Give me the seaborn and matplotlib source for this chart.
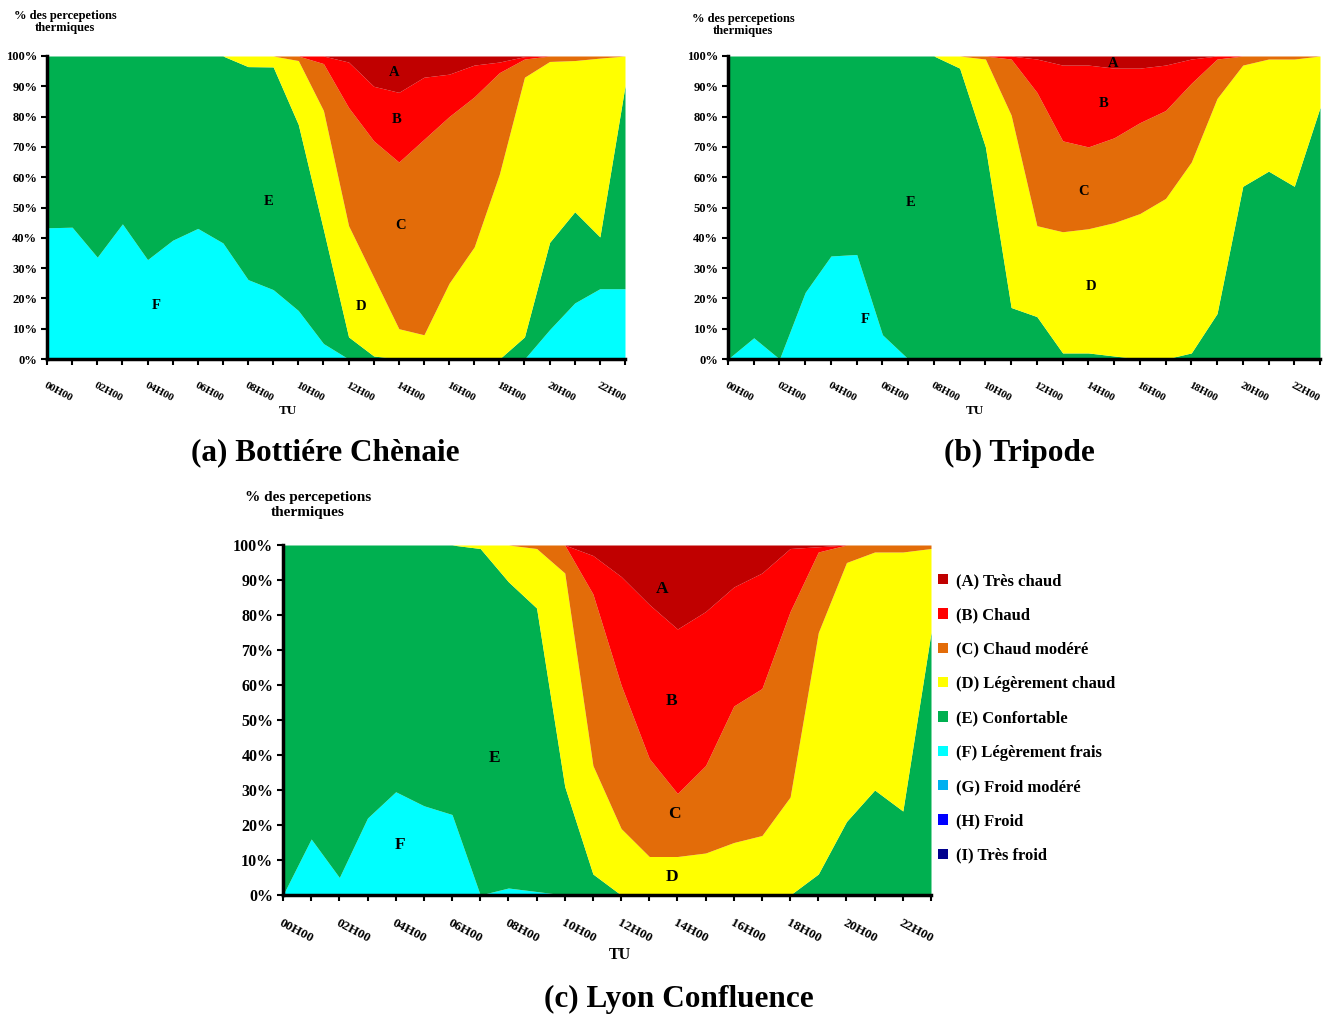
import numpy as np
import matplotlib
matplotlib.use('Agg')
import matplotlib.pyplot as plt
import seaborn as sns
from matplotlib.patches import Patch

sns.set_style('white')
plt.rcParams['font.family'] = ['Liberation Serif', 'DejaVu Serif']
plt.rcParams['font.weight'] = 'bold'
plt.rcParams['text.color'] = 'black'
plt.rcParams['xtick.color'] = 'black'
plt.rcParams['ytick.color'] = 'black'

hours = list(range(24))
hour_labels = ['%02dH00' % h for h in range(0, 24, 2)]

categories = ['(A) Très chaud', '(B) Chaud', '(C) Chaud modéré', '(D) Légèrement chaud',
              '(E) Confortable', '(F) Légèrement frais', '(G) Froid modéré',
              '(H) Froid', '(I) Très froid']
colors = ['#C00000', '#FF0000', '#E36C09', '#FFFF00', '#00B050',
          '#00FFFF', '#00B0F0', '#0000FF', '#00008E']

# (a) Bottiére Chènaie  (% per hour)
bc_A = [0, 0, 0, 0, 0, 0, 0, 0, 0, 0, 0, 0, 2, 10, 12, 7, 6, 3, 2, 0.2, 0, 0, 0, 0]
bc_B = [0, 0, 0, 0, 0, 0, 0, 0, 0, 0, 0, 2.5, 15, 18, 23, 20.5, 14, 10.5, 3.5, 0.8, 0, 0, 0, 0]
bc_C = [0, 0, 0, 0, 0, 0, 0, 0, 0, 0, 1.5, 15.5, 39, 45, 55, 64.5, 55, 49.5, 33.5, 6, 1.8, 1.5, 0.7, 0]
bc_D = [0, 0, 0, 0, 0, 0, 0, 0, 3.5, 3.6, 21.1, 39.3, 36.7, 26, 10, 8, 25, 37, 61, 85.7, 59.7, 49.9, 59, 9.9]
bc_E = [56.7, 56.5, 66.4, 55.4, 67.2, 60.8, 56.9, 61.7, 70.3, 73.5, 61.4, 37.6, 7.3, 1, 0, 0, 0, 0, 0, 7.3, 28.8, 30.1, 17.1, 66.9]
bc_F = [43.3, 43.5, 33.6, 44.6, 32.8, 39.2, 43.1, 38.3, 26.2, 22.9, 16.0, 5.1, 0, 0, 0, 0, 0, 0, 0, 0, 9.7, 18.5, 23.2, 23.2]

# (b) Tripode
tr_A = [0, 0, 0, 0, 0, 0, 0, 0, 0, 0, 0, 0, 1, 3, 3, 4, 4, 3, 1, 0, 0, 0, 0, 0]
tr_B = [0, 0, 0, 0, 0, 0, 0, 0, 0, 0, 0, 1, 11, 25, 27, 23, 18, 15, 8, 1, 0, 0, 0, 0]
tr_C = [0, 0, 0, 0, 0, 0, 0, 0, 0, 0, 1, 18.5, 44, 30, 27, 28, 30, 29, 26, 13, 3, 1, 1, 0]
tr_D = [0, 0, 0, 0, 0, 0, 0, 0, 0, 4, 29, 63.5, 30, 40, 41, 44, 48, 53, 63, 71, 40, 37, 42, 17]
tr_E = [100, 93, 100, 78, 66, 65.5, 92, 100, 100, 96, 70, 17, 14, 2, 2, 1, 0, 0, 2, 15, 57, 62, 57, 83]
tr_F = [0, 7, 0, 22, 34, 34.5, 8, 0, 0, 0, 0, 0, 0, 0, 0, 0, 0, 0, 0, 0, 0, 0, 0, 0]

# (c) Lyon Confluence
lc_A = [0, 0, 0, 0, 0, 0, 0, 0, 0, 0, 0, 3, 9, 17, 24, 19, 12, 8, 1, 0.5, 0, 0, 0, 0]
lc_B = [0, 0, 0, 0, 0, 0, 0, 0, 0, 0, 0, 11, 31, 44, 47, 44, 34, 33, 18, 1.5, 0, 0, 0, 0]
lc_C = [0, 0, 0, 0, 0, 0, 0, 0, 0, 1, 8, 49, 41, 28, 18, 25, 39, 42, 53, 23, 5, 2, 2, 1]
lc_D = [0, 0, 0, 0, 0, 0, 0, 1, 10.5, 17, 61, 31, 19, 11, 11, 12, 15, 17, 28, 69, 74, 68, 74, 24]
lc_E = [100, 84, 95, 78, 70.5, 74.5, 77, 99, 87.5, 81, 31, 6, 0, 0, 0, 0, 0, 0, 0, 6, 21, 30, 24, 75]
lc_F = [0, 16, 5, 22, 29.5, 25.5, 23, 0, 2, 1, 0, 0, 0, 0, 0, 0, 0, 0, 0, 0, 0, 0, 0, 0]

zeros = [0] * 24

fig = plt.figure(figsize=(13.35, 10.16), dpi=100)
W, H = 1335, 1016


def add_ax(l, t, r, b):
    return fig.add_axes([l / W, 1 - b / H, (r - l) / W, (b - t) / H])


def draw(ax, A, B, C, D, E, F, fs_y, fs_x, fs_let, letters):
    # stack bottom -> top : I, H, G, F, E, D, C, B, A
    ax.stackplot(hours, zeros, zeros, zeros, F, E, D, C, B, A,
                 colors=colors[::-1], linewidth=0)
    ax.set_xlim(0, 23)
    ax.set_ylim(0, 100)
    ax.set_yticks(range(0, 101, 10))
    ax.set_yticklabels(['%d%%' % v for v in range(0, 101, 10)], fontsize=fs_y, fontweight='bold')
    ax.set_xticks(hours)
    ax.set_xticklabels([hour_labels[h // 2] if h % 2 == 0 else '' for h in hours],
                       fontsize=fs_x, fontweight='bold', rotation=-28,
                       ha='left', va='top', rotation_mode='anchor')
    ax.tick_params(axis='both', direction='out', length=4, width=1.5, color='black',
                   left=True, bottom=True, pad=3)
    ax.tick_params(axis='x', pad=12)
    for s in ['top', 'right']:
        ax.spines[s].set_visible(False)
    for s in ['left', 'bottom']:
        ax.spines[s].set_color('black')
        ax.spines[s].set_linewidth(2.5)
    for txt, (x, y) in letters.items():
        ax.text(x, y, txt, fontsize=fs_let, fontweight='bold', ha='center', va='center')


ax_a = add_ax(47, 56, 625, 359)
draw(ax_a, bc_A, bc_B, bc_C, bc_D, bc_E, bc_F, 9, 8, 10.5,
     {'A': (13.8, 94.7), 'B': (13.9, 78.9), 'C': (14.05, 44.2),
      'D': (12.5, 17.2), 'E': (8.8, 52.1), 'F': (4.34, 17.5)})

ax_b = add_ax(728, 56, 1320, 359)
draw(ax_b, tr_A, tr_B, tr_C, tr_D, tr_E, tr_F, 9, 8, 10.5,
     {'A': (14.96, 97.4), 'B': (14.6, 84.2), 'C': (13.8, 55.4),
      'D': (14.1, 23.8), 'E': (7.1, 51.8), 'F': (5.32, 13.2)})

ax_c = add_ax(283, 545, 931, 895)
draw(ax_c, lc_A, lc_B, lc_C, lc_D, lc_E, lc_F, 11.5, 9.5, 12.5,
     {'A': (13.45, 87.4), 'B': (13.8, 55.4), 'C': (13.9, 23.1),
      'D': (13.8, 5.1), 'E': (7.49, 39.1), 'F': (4.15, 14.3)})

# axis captions
ylab = '% des percepetions\nthermiques'
fig.text(65 / W, 1 - 22 / H, ylab, ha='center', va='center', fontsize=9, fontweight='bold',
         linespacing=1.0)
fig.text(743 / W, 1 - 25 / H, ylab, ha='center', va='center', fontsize=9, fontweight='bold',
         linespacing=1.0)
fig.text(308 / W, 1 - 505 / H, ylab, ha='center', va='center', fontsize=11, fontweight='bold',
         linespacing=1.15)
fig.text(288 / W, 1 - 411 / H, 'TU', ha='center', va='center', fontsize=9.5, fontweight='bold')
fig.text(975 / W, 1 - 411 / H, 'TU', ha='center', va='center', fontsize=9.5, fontweight='bold')
fig.text(620 / W, 1 - 955 / H, 'TU', ha='center', va='center', fontsize=11.5, fontweight='bold')

# subtitles
fig.text(325 / W, 1 - 453 / H, '(a) Bottiére Chènaie', ha='center', va='center',
         fontsize=22.5, fontweight='bold')
fig.text(1019 / W, 1 - 453 / H, '(b) Tripode', ha='center', va='center',
         fontsize=22.5, fontweight='bold')
fig.text(679 / W, 1 - 999 / H, '(c) Lyon Confluence', ha='center', va='center',
         fontsize=22.5, fontweight='bold')

handles = [Patch(facecolor=c, edgecolor='none', label=l) for c, l in zip(colors, categories)]
fig.legend(handles=handles, loc='upper left', bbox_to_anchor=(938 / W, 1 - 573 / H),
           frameon=False, prop={'size': 12, 'weight': 'bold'},
           handlelength=0.6, handleheight=0.6, handletextpad=0.45, labelspacing=1.1,
           borderaxespad=0, borderpad=0)

fig.savefig('out.png', dpi=100, facecolor='white')
